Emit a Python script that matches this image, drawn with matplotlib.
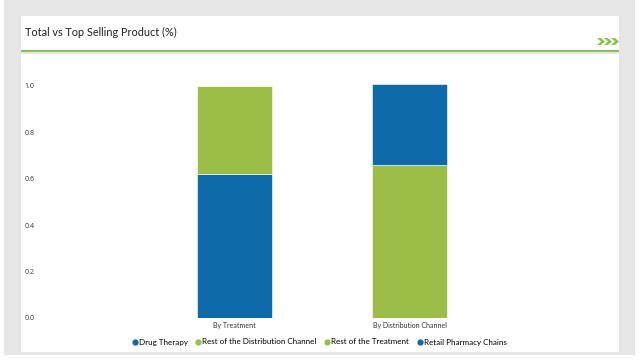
import matplotlib
matplotlib.use("Agg")
import matplotlib.pyplot as plt
from matplotlib.patches import Rectangle, Polygon
from matplotlib.lines import Line2D
import numpy as np

plt.rcParams["font.family"] = ["Lato", "DejaVu Sans"]

categories = ["By Treatment", "By Distribution Channel"]
series_names = ["Drug Therapy", "Rest of the Distribution Channel",
                "Rest of the Treatment", "Retail Pharmacy Chains"]
drug_therapy = [0.62, 0.0]
rest_distribution = [0.0, 0.66]
rest_treatment = [0.38, 0.0]
retail_pharmacy = [0.0, 0.35]
yticks = [0.0, 0.2, 0.4, 0.6, 0.8, 1.0]

BLUE = "#0e6aa8"
GREEN = "#9bbd47"
GRAY = "#e6e6e6"
ACCENT = "#8cc152"

W, H = 640, 360
fig = plt.figure(figsize=(6.4, 3.6), dpi=100, facecolor="white")


def px_rect(x0, y0, x1, y1, color, z=0):
    fig.patches.append(Rectangle((x0 / W, 1 - y1 / H), (x1 - x0) / W, (y1 - y0) / H,
                                 transform=fig.transFigure, facecolor=color,
                                 edgecolor="none", zorder=z))


px_rect(4, 0, 635, 355, GRAY, -3)
px_rect(21, 16, 619, 50, "white", -2)
px_rect(21, 50, 619, 52, ACCENT, -1)
px_rect(21, 54, 619, 352, "white", -2)

fig.text(25 / W, 1 - 32 / H, "Total vs Top Selling Product (%)", fontsize=7.8,
         color="#222222", va="center", ha="left")

# header chevrons (decoration)
for i in range(3):
    x0 = 597 + i * 7
    pts = [(x0, 38), (x0 + 4, 38), (x0 + 8, 41.5), (x0 + 4, 45), (x0, 45), (x0 + 4, 41.5)]
    fig.patches.append(Polygon([(px / W, 1 - py / H) for px, py in pts], closed=True,
                               transform=fig.transFigure, facecolor=ACCENT,
                               edgecolor="none", zorder=0))

ax = fig.add_axes([40 / W, 1 - 318 / H, 565 / W, 244 / H])
ax.set_facecolor("none")
x = np.arange(len(categories))
series = [drug_therapy, rest_distribution, rest_treatment, retail_pharmacy]
colors = [BLUE, GREEN, GREEN, BLUE]
bottom = np.zeros(len(categories))
for vals, c in zip(series, colors):
    v = np.array(vals)
    ax.bar(x, v, 0.43, bottom=bottom, color=c, edgecolor="white", linewidth=0.4)
    bottom += v

ax.set_xlim((40 - 234.5) / 175, (605 - 234.5) / 175)
ax.set_ylim(0, 244 / 232)
ax.set_yticks(yticks)
ax.set_yticklabels([f"{t:.1f}" for t in yticks], fontsize=5, color="#333333",
                   family=["Open Sans", "DejaVu Sans"])
ax.set_xticks(x)
ax.set_xticklabels(categories, fontsize=5, color="#333333")
ax.tick_params(axis="y", length=0, pad=4)
ax.tick_params(axis="x", length=0, pad=3)
for s in ax.spines.values():
    s.set_visible(False)

handles = [Line2D([], [], marker="o", linestyle="none", markersize=3.5,
                  markerfacecolor=c, markeredgecolor=c) for c in colors]
fig.legend(handles, series_names, loc="center", bbox_to_anchor=(319 / W, 1 - 342 / H),
           ncol=4, frameon=False, fontsize=5.8, handletextpad=0.1, columnspacing=0.9,
           handlelength=0.8)

fig.savefig("out.png", dpi=100)
